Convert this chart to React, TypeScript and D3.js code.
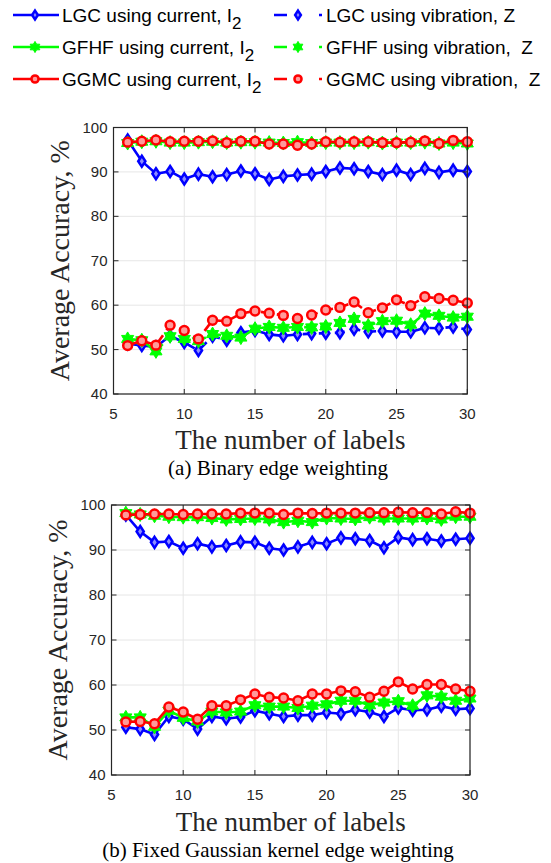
import React from 'react';
import * as d3 from 'd3';

const labels = d3.range(6, 31);

// (a) Binary edge weighting
const lgcCurA = [97.2, 92.4, 89.6, 90.1, 88.4, 89.5, 88.9, 89.4, 90.2, 89.6, 88.3, 89.0, 89.3, 89.5, 90.1, 90.9, 90.7, 90.1, 89.4, 90.4, 89.4, 90.8, 89.9, 90.4, 90.1];
const gfhfCurA = [96.5, 96.8, 96.9, 96.6, 96.6, 96.7, 96.8, 96.6, 96.7, 96.7, 96.6, 96.5, 96.7, 96.5, 96.6, 96.6, 96.6, 96.7, 96.5, 96.6, 96.6, 96.7, 96.4, 96.6, 96.4];
const ggmcCurA = [96.7, 96.9, 97.2, 96.8, 96.9, 96.9, 97.0, 96.6, 96.9, 96.9, 96.3, 96.3, 96.0, 96.3, 96.8, 96.7, 96.8, 96.8, 96.6, 96.6, 96.7, 97.0, 96.4, 97.1, 96.8];
const lgcVibA = [51.3, 50.9, 50.6, 53.1, 51.6, 49.8, 53.0, 52.1, 53.8, 54.3, 53.4, 53.1, 53.4, 53.6, 53.7, 53.8, 54.6, 54.0, 54.2, 54.0, 54.0, 54.9, 54.8, 55.1, 54.5];
const gfhfVibA = [52.4, 52.1, 49.6, 53.0, 52.4, 51.9, 53.5, 53.1, 52.7, 54.7, 55.1, 54.9, 55.1, 55.0, 55.2, 56.0, 56.9, 55.4, 56.4, 56.5, 55.6, 58.1, 57.6, 57.2, 57.4];
const ggmcVibA = [50.9, 52.0, 51.0, 55.5, 54.3, 52.4, 56.6, 56.4, 58.1, 58.7, 58.2, 57.7, 57.0, 57.8, 58.9, 59.5, 60.7, 58.3, 59.4, 61.2, 59.9, 61.9, 61.5, 61.1, 60.5];

// (b) Fixed Gaussian kernel edge weighting
const lgcCurB = [97.8, 94.1, 91.7, 91.9, 90.4, 91.4, 90.7, 91.0, 91.8, 91.7, 90.4, 90.0, 90.7, 91.7, 91.4, 92.7, 92.5, 92.1, 90.5, 92.8, 92.3, 92.5, 92.0, 92.4, 92.6];
const gfhfCurB = [98.2, 97.9, 97.6, 97.4, 97.3, 97.3, 97.1, 96.8, 96.9, 97.0, 96.8, 96.2, 96.5, 96.2, 97.1, 97.0, 96.9, 97.3, 97.0, 97.0, 97.0, 97.1, 96.8, 97.4, 97.4];
const ggmcCurB = [97.8, 97.9, 98.0, 98.0, 97.9, 98.0, 98.0, 98.0, 98.2, 98.2, 98.2, 97.9, 98.2, 98.1, 98.2, 98.2, 98.2, 98.3, 98.3, 98.4, 98.3, 98.3, 98.0, 98.5, 98.2];
const lgcVibB = [50.6, 50.2, 49.0, 53.0, 52.4, 50.2, 53.0, 52.5, 52.9, 54.3, 53.6, 53.0, 53.3, 53.3, 53.9, 53.6, 54.5, 54.0, 53.0, 54.9, 54.4, 54.5, 55.3, 54.6, 54.8];
const gfhfVibB = [52.8, 52.8, 50.7, 54.3, 52.7, 51.9, 54.1, 53.9, 54.1, 55.5, 55.2, 55.2, 54.9, 55.4, 55.7, 56.5, 56.5, 55.5, 56.1, 56.4, 55.4, 57.7, 57.4, 56.5, 57.0];
const ggmcVibB = [51.8, 51.9, 51.4, 55.1, 54.0, 52.4, 55.4, 55.4, 56.7, 58.0, 57.3, 57.1, 56.5, 58.0, 58.0, 58.7, 58.5, 57.3, 58.6, 60.7, 59.1, 60.1, 60.1, 59.1, 58.6];

const xTicks = [5, 10, 15, 20, 25, 30];
const yTicks = [40, 50, 60, 70, 80, 90, 100];

const BLUE = '#0000ff';
const GREEN = '#00ff00';
const RED = '#ff0000';

const legendLeft = ['LGC using current, ', 'GFHF using current, ', 'GGMC using current, '];
const legendRight = ['LGC using vibration, Z', 'GFHF using vibration,  Z', 'GGMC using vibration,  Z'];
const legendColors = [BLUE, GREEN, RED];
const legendShapes = ['diamond', 'hexagram', 'circle'];

const hexagram = (r: number) => {
  const pts: string[] = [];
  for (let i = 0; i < 12; i++) {
    const a = (i * Math.PI) / 6 - Math.PI / 2;
    const rr = i % 2 === 0 ? r : r * 0.58;
    pts.push(`${rr * Math.cos(a)},${rr * Math.sin(a)}`);
  }
  return `M${pts.join('L')}Z`;
};

const markerPath = (shape: string, k = 1) => {
  if (shape === 'diamond') return `M0,${-5.5 * k}L${3.6 * k},0L0,${5.5 * k}L${-3.6 * k},0Z`;
  if (shape === 'hexagram') return hexagram(7 * k);
  return d3.symbol(d3.symbolCircle, 62 * k * k)()!;
};

const markerFill = (shape: string, color: string) => {
  if (shape === 'hexagram') return color;
  if (shape === 'diamond') return '#8c8cff';
  return '#ff9a9a';
};

const Marker = ({ x, y, shape, color, k = 1 }: any) => (
  <path
    d={markerPath(shape, k)}
    transform={`translate(${x},${y})`}
    fill={markerFill(shape, color)}
    stroke={color}
    strokeWidth={shape === 'hexagram' ? 1 : 2.5}
  />
);

const serif = 'Liberation Serif, Times New Roman';
const sans = 'Liberation Sans, Arial';

const Panel = ({ top, bottom, left, right, series, dashVib, caption, xLabelY, captionY, tickY }: any) => {
  const x = d3.scaleLinear().domain([5, 30]).range([left, right]);
  const y = d3.scaleLinear().domain([40, 100]).range([bottom, top]);
  const line = d3
    .line<number>()
    .x((_, i) => x(labels[i]))
    .y((d) => y(d));
  const tk = 5;
  return (
    <g>
      {xTicks.map((t) => (
        <line key={'gx' + t} x1={x(t)} x2={x(t)} y1={top} y2={bottom} stroke="#e6e6e6" strokeWidth={1} />
      ))}
      {yTicks.map((t) => (
        <line key={'gy' + t} x1={left} x2={right} y1={y(t)} y2={y(t)} stroke="#e6e6e6" strokeWidth={1} />
      ))}
      {series.map((s: any, k: number) => (
        <g key={k}>
          <path
            d={line(s.values)!}
            fill="none"
            stroke={s.color}
            strokeWidth={2.6}
            strokeDasharray={s.vib && dashVib ? '10,6' : undefined}
          />
          {s.values.map((v: number, i: number) => (
            <Marker key={i} x={x(labels[i])} y={y(v)} shape={s.shape} color={s.color} />
          ))}
        </g>
      ))}
      <rect x={left} y={top} width={right - left} height={bottom - top} fill="none" stroke="#262626" strokeWidth={1.2} />
      {xTicks.map((t) => (
        <g key={'tx' + t}>
          <line x1={x(t)} x2={x(t)} y1={bottom} y2={bottom - tk} stroke="#262626" />
          <line x1={x(t)} x2={x(t)} y1={top} y2={top + tk} stroke="#262626" />
          <text x={x(t)} y={tickY} textAnchor="middle" fontFamily={sans} fontSize={15} fill="#262626">
            {t}
          </text>
        </g>
      ))}
      {yTicks.map((t) => (
        <g key={'ty' + t}>
          <line x1={left} x2={left + tk} y1={y(t)} y2={y(t)} stroke="#262626" />
          <line x1={right} x2={right - tk} y1={y(t)} y2={y(t)} stroke="#262626" />
          <text x={left - 6} y={y(t) + 5} textAnchor="end" fontFamily={sans} fontSize={15} fill="#262626">
            {t}
          </text>
        </g>
      ))}
      <text
        transform={`translate(${left - 45},${(top + bottom) / 2}) rotate(-90)`}
        textAnchor="middle"
        fontFamily={serif}
        fontSize={28}
        fill="#262626"
      >
        Average Accuracy, %
      </text>
      <text x={(left + right) / 2} y={xLabelY} textAnchor="middle" fontFamily={serif} fontSize={27} fill="#262626">
        The number of labels
      </text>
      <text x={278} y={captionY} textAnchor="middle" fontFamily={serif} fontSize={21} fill="#000">
        {caption}
      </text>
    </g>
  );
};

const mk = (cur: number[][], vib: number[][]) => [
  ...cur.map((v, i) => ({ values: v, color: legendColors[i], shape: legendShapes[i], vib: false })),
  ...vib.map((v, i) => ({ values: v, color: legendColors[i], shape: legendShapes[i], vib: true })),
];

export default function App() {
  const rowY = [15, 47, 79];
  return (
    <svg width={551} height={863} style={{ position: 'absolute', left: 0, top: 0 }}>
      <rect width={551} height={863} fill="#fff" />
      {/* legend */}
      {rowY.map((ry, i) => (
        <g key={'lg' + i}>
          <line x1={13} x2={59} y1={ry} y2={ry} stroke={legendColors[i]} strokeWidth={2.4} />
          <Marker x={35} y={ry} shape={legendShapes[i]} color={legendColors[i]} k={0.8} />
          <text x={62} y={ry + 7} fontFamily={sans} fontSize={19} fill="#000">
            {legendLeft[i]}I
            <tspan fontSize={17} dy={7}>2</tspan>
          </text>
          <line x1={274} x2={322} y1={ry} y2={ry} stroke={legendColors[i]} strokeWidth={2.4} strokeDasharray="13,32,3" />
          <Marker x={298} y={ry} shape={legendShapes[i]} color={legendColors[i]} k={0.8} />
          <text x={326} y={ry + 7} fontFamily={sans} fontSize={19} fill="#000" style={{ whiteSpace: 'pre' }}>
            {legendRight[i]}
          </text>
        </g>
      ))}
      <Panel
        top={127.5}
        bottom={394}
        left={113.5}
        right={467.3}
        series={mk([lgcCurA, gfhfCurA, ggmcCurA], [lgcVibA, gfhfVibA, ggmcVibA])}
        dashVib={true}
        caption="(a) Binary edge weighting"
        tickY={419}
        xLabelY={449}
        captionY={475}
      />
      <Panel
        top={505}
        bottom={775}
        left={111.5}
        right={470}
        series={mk([lgcCurB, gfhfCurB, ggmcCurB], [lgcVibB, gfhfVibB, ggmcVibB])}
        dashVib={false}
        caption="(b) Fixed Gaussian kernel edge weighting"
        tickY={800}
        xLabelY={831}
        captionY={857}
      />
    </svg>
  );
}
